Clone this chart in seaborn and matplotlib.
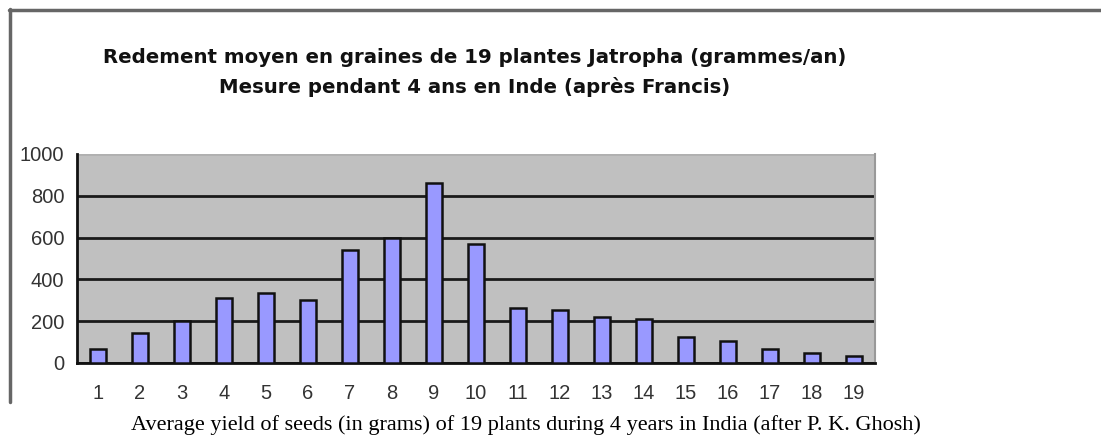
import numpy as np
import pandas as pd
import seaborn as sns
import matplotlib.pyplot as plt
from matplotlib.lines import Line2D

plants = [str(i) for i in range(1, 20)]
yield_g = [65, 145, 200, 310, 335, 300, 540, 600, 860, 570,
           265, 255, 220, 210, 125, 105, 65, 50, 35]
y_ticks = [0, 200, 400, 600, 800, 1000]

title_1 = "Redement moyen en graines de 19 plantes Jatropha (grammes/an)"
title_2 = "Mesure pendant 4 ans en Inde (après Francis)"
caption = "Average yield of seeds (in grams) of 19 plants during 4 years in India (after P. K. Ghosh)"

df = pd.DataFrame({"plant": plants, "yield": yield_g})

sns.set_style("white")
plt.rcParams['font.family'] = ['Liberation Sans', 'DejaVu Sans']

fig = plt.figure(figsize=(11.01, 4.41), dpi=100)
ax = fig.add_axes([0.0699, 0.1769, 0.7248, 0.4739])
ax.set_facecolor('#c0c0c0')

sns.barplot(data=df, x="plant", y="yield", color='#9999ff', saturation=1,
            edgecolor='#111111', linewidth=1.8, width=0.4, ax=ax, zorder=3)

ax.set_ylim(0, 1000)
ax.set_xlim(-0.5, len(plants) - 0.5)
ax.set_yticks(y_ticks)
ax.set_yticklabels([str(v) for v in y_ticks], fontsize=14.5, color='#333333')
ax.yaxis.grid(True, color='#1a1a1a', linewidth=2, zorder=1)
ax.set_axisbelow(True)
# no dark line along the top edge at 1000
ax.get_ygridlines()[-1].set_color('#b0b0b0')

# labels at bar centres, tick marks between categories
ax.tick_params(axis='x', which='major', length=0, labelsize=14.5, pad=15, labelcolor='#333333')
ax.set_xticks(np.arange(-0.5, len(plants), 1), minor=True)
ax.tick_params(axis='x', which='minor', length=5, width=1.5, color='#555555', direction='out')
ax.tick_params(axis='y', length=5, width=1.5, color='#888888', direction='out', pad=4)
ax.set_xlabel("")
ax.set_ylabel("")

for s in ['left', 'bottom']:
    ax.spines[s].set_color('#111111')
    ax.spines[s].set_linewidth(2)
ax.spines['right'].set_color('#999999')
ax.spines['right'].set_linewidth(1.5)
ax.spines['top'].set_visible(False)

fig.text(0.431, 0.870, title_1, ha='center', va='center', fontsize=14.2,
         fontweight='bold', family=['DejaVu Sans'], color='#111111')
fig.text(0.431, 0.802, title_2, ha='center', va='center', fontsize=14.2,
         fontweight='bold', family=['DejaVu Sans'], color='#111111')
fig.text(0.478, 0.036, caption, ha='center', va='center', fontsize=16,
         family=['Liberation Serif', 'DejaVu Serif'], color='black')

# outer frame (top and left edges)
fig.add_artist(Line2D([8.5 / 1101, 1], [1 - 10 / 441, 1 - 10 / 441],
                      transform=fig.transFigure, color='#666666', linewidth=2.5))
fig.add_artist(Line2D([9.5 / 1101, 9.5 / 1101], [1 - 9 / 441, 1 - 402 / 441],
                      transform=fig.transFigure, color='#666666', linewidth=2.5))

fig.savefig("out.png", dpi=100)
